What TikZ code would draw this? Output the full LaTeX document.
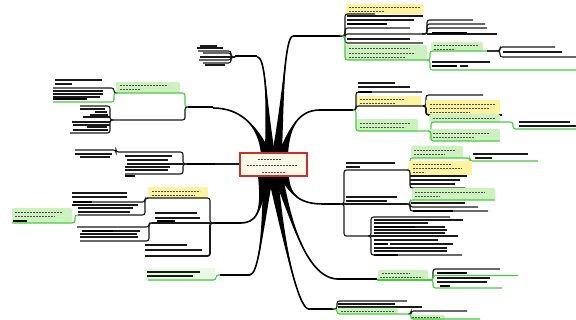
\documentclass[tikz,border=0pt]{standalone}
\usetikzlibrary{calc}
\definecolor{mmgreen}{RGB}{70,205,60}
\definecolor{mmgfill}{RGB}{205,242,192}
\definecolor{mmyfill}{RGB}{255,242,160}
\definecolor{mmred}{RGB}{205,45,45}
\definecolor{mmcream}{RGB}{255,251,232}
\newcommand\mmspoke[5]{%
 \fill[black] ($(#1)+(#5,0)$) .. controls (#2) and (#3) .. (#4) .. controls (#3) and (#2) .. ($(#1)-(#5,0)$) -- cycle;
 \draw[line width=1.6pt] (#1) .. controls (#2) and (#3) .. (#4);}
\newcommand\mmln[3]{\draw[mmt] (#1,#3) -- (#2,#3);}
\newcommand\mmbd[3]{\draw[mmb] (#1,#3) -- (#2,#3);}
\newcommand\mmdt[3]{\draw[mmd] (#1,#3) -- (#2,#3);}
\newcommand\mmgbox[4]{\fill[mmgfill,rounded corners=2pt] (#1,#2) rectangle (#3,#4);}
\newcommand\mmybox[4]{\fill[mmyfill] (#1,#2) rectangle (#3,#4);}
\newcommand\mmbrk[6][mmt]{\draw[#1,rounded corners=2.5pt] (#2,#3) -| (#4,#5) -- (#6,#5);}
\begin{document}
\begin{tikzpicture}[x=1pt,y=-1pt,
  mmt/.style={line width=1.1pt,black!90},
  mmb/.style={line width=2.4pt,black},
  mmg/.style={line width=1.1pt,mmgreen},
  mmd/.style={line width=0.9pt,black!70,dash pattern=on 2.2pt off 0.8pt}]
\useasboundingbox (0,0) rectangle (576,320);
\fill[white] (0,0) rectangle (576,320);

% ---------- spokes ----------
\coordinate (sT3) at (266,154); \coordinate (eT3) at (213,108);
\coordinate (sT1) at (270,154); \coordinate (eT1) at (257,57);
\coordinate (sT2) at (277,154); \coordinate (eT2) at (293,36);
\coordinate (sT4) at (283,154); \coordinate (eT4) at (320,110);
\coordinate (sB1) at (263,176); \coordinate (eB1) at (240,223);
\coordinate (sB2) at (268,176); \coordinate (eB2) at (250,275);
\coordinate (sB5) at (273,176); \coordinate (eB5) at (308,309);
\coordinate (sB4) at (278,176); \coordinate (eB4) at (337,279);
\coordinate (sB3) at (284,176); \coordinate (eB3) at (323,204);
\mmspoke{sT3}{258,125}{240,108}{eT3}{5}
\mmspoke{sT1}{266,100}{266,57}{eT1}{5}
\mmspoke{sT2}{284,90}{285,37}{eT2}{5}
\mmspoke{sT4}{290,125}{300,110}{eT4}{5}
\mmspoke{sB1}{262,215}{255,223}{eB1}{5}
\mmspoke{sB2}{262,240}{258,273}{eB2}{5}
\mmspoke{sB5}{285,250}{298,305}{eB5}{5}
\mmspoke{sB4}{290,215}{305,277}{eB4}{5}
\mmspoke{sB3}{290,195}{300,204}{eB3}{5}

% ---------- center ----------
\node[draw=mmred,line width=2pt,fill=mmcream,minimum width=67pt,minimum height=23pt,inner sep=0pt] (ctr) at (273,165) {};
\mmdt{258}{281}{159}
\mmdt{247}{297}{165}
\draw[line width=0.9pt,mmred,dash pattern=on 2.2pt off 0.8pt] (262,172) -- (286,172);
\draw[mmt] (ctr.west |- 0,164) -- (215,164);

% ---------- T1 (top-left) ----------
\mmbd{235}{257}{56}
\mmln{200}{217}{46}
\mmln{197}{223}{48}
\mmbrk{235}{57}{231}{51}{198}
\mmbrk{235}{57}{231}{53}{203}
\mmln{200}{231}{57}
\mmbrk{235}{57}{231}{60}{199}
\mmbrk{235}{57}{231}{63}{203}
\mmln{205}{225}{65}

% ---------- T2 (top-right) ----------
\mmbd{293}{343}{36}
\mmybox{346}{4}{423}{14}
\mmdt{349}{420}{7}
\mmdt{349}{385}{11}
\mmbrk{343}{36}{345}{14}{375}
\mmln{347}{423}{16}
\mmln{347}{414}{20}
\mmbd{347}{387}{24}
\mmbrk{343}{36}{345}{28}{410}
\mmbrk{343}{36}{345}{34}{422}
\mmbrk{422}{34}{427}{20}{473}
\mmbrk{422}{34}{427}{24}{485}
\mmbrk{422}{34}{427}{28}{487}
\mmln{427}{497}{34}
\mmbd{432}{467}{33}
\mmln{347}{410}{39}
\mmbrk{343}{36}{345}{43}{423}
\mmgbox{345}{45}{427}{60}
\mmdt{349}{410}{48}
\mmdt{349}{415}{53}
\mmdt{349}{405}{57}
\mmbrk[mmg]{343}{36}{345}{60}{427}
\mmgbox{431}{42}{483}{51}
\mmdt{434}{478}{45}
\mmdt{434}{455}{49}
\mmbrk[mmg]{427}{60}{430}{51}{487}
\mmbrk{487}{51}{500}{47}{555}
\mmln{503}{562}{52}
\mmbrk{487}{51}{500}{57}{576}
\mmln{432}{490}{62}
\mmbd{432}{457}{66}
\mmln{460}{468}{66}
\mmbrk[mmg]{427}{60}{430}{70}{576}

% ---------- R2 ----------
\mmbd{320}{353}{110}
\mmln{358}{395}{83}
\mmln{358}{410}{87}
\mmbrk{353}{110}{356}{92}{422}
\mmbd{358}{372}{92}
\mmybox{357}{96}{421}{106}
\mmdt{360}{405}{99}
\mmdt{360}{395}{103}
\mmbrk{353}{110}{356}{106}{423}
\mmbrk{423}{106}{426}{95}{483}
\mmybox{426}{100}{500}{114}
\mmdt{430}{495}{104}
\mmdt{430}{490}{108}
\mmdt{430}{470}{112}
\mmbrk[mmt,line width=1.6pt]{423}{106}{426}{115}{502}
\mmgbox{356}{119}{418}{131}
\mmdt{360}{410}{123}
\mmdt{360}{405}{127}
\mmbrk[mmg]{353}{110}{356}{131}{428}
\mmgbox{429}{114}{500}{122}
\mmdt{433}{495}{118}
\mmbrk[mmg]{428}{131}{431}{122}{505}
\mmbrk[mmg]{505}{122}{513}{129}{576}
\mmln{519}{570}{122}
\mmln{519}{576}{126}
\mmgbox{429}{129}{500}{141}
\mmdt{433}{490}{133}
\mmdt{433}{475}{137}
\mmbrk[mmg]{428}{131}{431}{141}{500}

% ---------- R3 ----------
\mmbd{323}{340}{204}
\mmln{346}{395}{163}
\mmln{346}{360}{167}
\mmbrk{340}{204}{344}{170}{407}
\mmgbox{411}{146}{463}{158}
\mmdt{414}{455}{150}
\mmdt{414}{445}{154}
\mmbrk[mmg]{407}{170}{410}{158}{466}
\mmbrk[mmg]{466}{158}{470}{161}{538}
\mmln{473}{528}{154}
\mmln{475}{492}{158}
\mmybox{409}{161}{472}{175}
\mmdt{413}{452}{164}
\mmdt{413}{462}{168}
\mmdt{413}{425}{172}
\mmln{410}{467}{176}
\mmln{410}{460}{180}
\mmln{410}{455}{184}
\mmbrk{407}{170}{410}{188}{465}
\mmln{346}{397}{197}
\mmln{346}{387}{201}
\draw[mmt] (340,204) -- (407,204);
\mmgbox{412}{188}{495}{200}
\mmdt{415}{485}{192}
\mmdt{415}{440}{196}
\mmbrk[mmg]{407}{204}{410}{200}{495}
\mmln{411}{465}{203}
\mmbrk{407}{204}{410}{207}{478}
\mmbrk{407}{204}{410}{211}{488}
\mmbd{413}{453}{211}
\mmbrk{340}{204}{344}{236}{368}
\mmbrk{368}{236}{371}{217}{450}
\mmln{374}{463}{220}
\mmln{374}{428}{223}
\mmbd{374}{415}{227}
\mmln{415}{445}{227}
\mmln{374}{447}{230}
\mmln{374}{445}{233}
\mmln{371}{458}{236}
\mmln{374}{438}{240}
\mmbd{374}{388}{244}
\mmln{390}{453}{244}
\mmln{374}{447}{248}
\mmln{374}{447}{251}
\mmbrk{368}{236}{371}{255}{462}
\mmbd{374}{398}{255}

% ---------- R4 ----------
\mmbd{337}{377}{279}
\mmgbox{378}{270}{428}{280}
\mmdt{382}{410}{273}
\mmdt{380}{422}{277}
\draw[mmg] (377,280) -- (428,280);
\mmbrk{428}{280}{433}{269}{500}
\mmbd{437}{467}{273}
\mmbrk[mmg]{428}{280}{433}{275.5}{518}
\mmln{437}{490}{278}
\mmln{437}{487}{282}
\mmbd{440}{450}{286}
\mmbrk[mmg]{428}{280}{433}{288}{502}

% ---------- R5 ----------
\mmbd{308}{335}{309}
\mmbrk{335}{309}{337}{301}{407}
\mmln{338}{395}{304}
\mmln{338}{422}{307}
\mmgbox{337}{308}{398}{314}
\mmdt{341}{395}{311}
\mmbrk[mmg]{335}{309}{337}{314}{408}
\mmbrk{408}{314}{411}{311}{467}
\mmgbox{410}{315}{445}{320}
\mmdt{412}{440}{317}
\mmbrk[mmg]{408}{314}{411}{319}{480}

% ---------- L1 ----------
\mmbd{188}{213}{107}
\mmgbox{116}{82}{180}{93}
\mmdt{120}{168}{85}
\mmdt{120}{140}{89}
\mmbrk[mmg]{188}{107}{185}{93}{117}
\mmln{55}{102}{80}
\mmln{55}{72}{84}
\mmbrk{117}{93}{114}{88}{53}
\mmln{53}{103}{91}
\mmln{53}{103}{94}
\mmln{53}{100}{97}
\mmbd{53}{87}{99}
\mmbrk[mmg]{117}{93}{114}{102}{53}
\mmbrk{188}{107}{185}{120}{113}
\mmbrk{113}{120}{110}{106}{80}
\mmln{80}{105}{109}
\mmln{95}{107}{112}
\mmln{90}{108}{115}
\mmln{83}{110}{117}
\mmln{72}{110}{122}
\mmln{73}{110}{125}
\mmln{87}{107}{127}
\mmln{73}{108}{130}
\mmbrk{113}{120}{110}{133}{70}

% ---------- L2 ----------
\mmbd{187}{215}{164}
\mmbrk{187}{164}{183}{152}{128}
\mmbrk{128}{152}{116}{150}{75}
\mmln{75}{112}{154}
\mmln{80}{110}{157}
\mmln{125}{172}{156}
\draw[mmt,line width=1.4pt] (127,160) -- (168,160);
\draw[mmt] (183,164) -- (127,164);
\mmln{125}{170}{167}
\mmln{125}{168}{170}
\mmbrk{187}{164}{183}{174}{125}
\mmbd{125}{135}{176}

% ---------- L3 ----------
\mmbd{215}{240}{223}
\mmybox{148}{187}{208}{198}
\mmdt{152}{200}{191}
\mmdt{152}{195}{195}
\mmbrk{215}{223}{210}{198}{148}
\mmln{72}{127}{193}
\mmln{72}{127}{197}
\mmbrk{148}{198}{145}{202}{73}
\mmbd{73}{92}{202}
\mmln{72}{138}{205}
\mmln{78}{133}{208}
\mmln{78}{130}{212}
\mmbrk{148}{198}{145}{215}{78}
\mmgbox{12}{208}{72}{223}
\mmdt{15}{62}{212}
\mmdt{15}{55}{216}
\mmbd{13}{27}{221}
\mmbrk[mmg]{78}{215}{75}{223}{12}
\draw[mmt] (210,223) -- (152,223);
\mmln{155}{197}{213}
\mmln{155}{200}{218}
\mmbd{157}{175}{221}
\mmbrk{152}{223}{149}{227}{77}
\mmbd{82}{113}{231}
\mmln{113}{140}{231}
\mmln{80}{137}{234}
\mmln{80}{138}{237}
\mmbrk{152}{223}{149}{241}{80}
\mmln{145}{187}{245}
\mmln{145}{202}{250}
\mmbrk[mmt,line width=1.7pt]{215}{223}{210}{256}{145}

% ---------- L4 ----------
\mmbd{220}{250}{275}
\fill[mmgfill!45] (145,268) rectangle (215,281);
\mmln{147}{200}{272}
\mmln{147}{193}{276}
\mmbrk[mmg]{220}{275}{216}{280}{148}
\end{tikzpicture}
\end{document}
